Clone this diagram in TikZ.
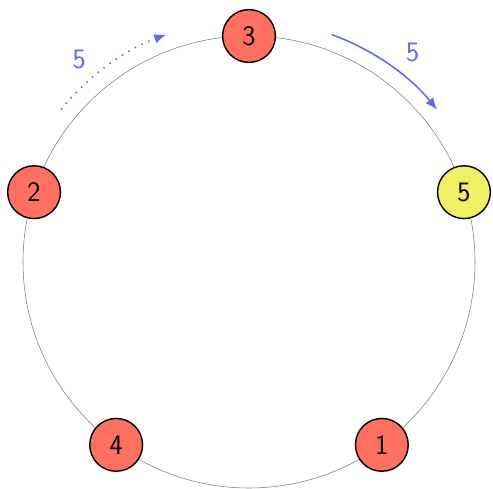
\documentclass[tikz,border=0pt]{standalone}
\usepackage{tikz}
\usetikzlibrary{arrows.meta}
\definecolor{nodered}{RGB}{255,112,97}
\definecolor{nodeyellow}{RGB}{240,240,100}
\definecolor{steplabel}{RGB}{100,100,255}

\begin{document}
\begin{tikzpicture}[
  x=1cm, y=1cm,
  player/.style={circle, draw, line width=1pt, fill=nodered, minimum size=13.2mm,
                 inner sep=0pt, font=\fontsize{20}{24}\sffamily},
  winner/.style={player, fill=nodeyellow},
  arrow/.style={-{Latex[length=3mm,width=2.4mm]}, line width=1.1pt, draw=steplabel},
  count/.style={text=steplabel, font=\fontsize{20}{24}\sffamily},
]
\useasboundingbox (-6.225,-5.65) rectangle (6.1,6.55);

% The ring
\draw[gray, thin] (0,0) circle[radius=5.65];

% Players on the ring
\node[player] at (90:5.65)   (p3) {3};
\node[winner] at (18:5.65)   (p5) {5};
\node[player] at (-54:5.65)  (p1) {1};
\node[player] at (-126:5.65) (p4) {4};
\node[player] at (162:5.65)  (p2) {2};

% Step arcs
\coordinate (done) at (141:6.05);
\coordinate (next) at (70:6.05);
\draw[arrow, dash pattern=on 1.1pt off 4.2pt] (done) arc[start angle=141, end angle=110, radius=6.05];
\draw[arrow]         (next) arc[start angle=70,  end angle=39,  radius=6.05];

% Step counts
\node[count] at (130:6.6) (kdone) {5};
\node[count] at (52:6.65) (knext) {5};
\end{tikzpicture}
\end{document}
